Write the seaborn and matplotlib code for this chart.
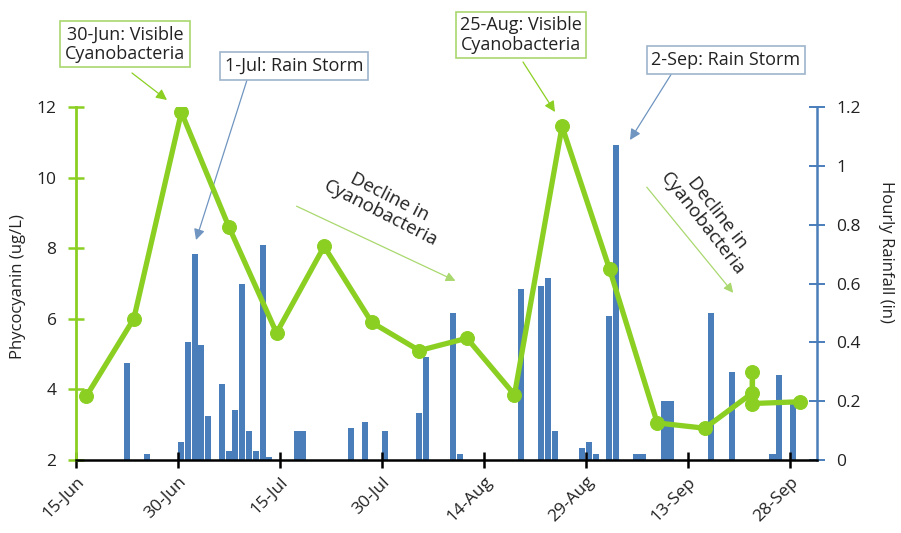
import pandas as pd
import matplotlib
matplotlib.use("Agg")
import matplotlib.pyplot as plt
import seaborn as sns

# phycocyanin samples (ug/L), roughly weekly; three readings on 22-Sep
sample_dates = ["2013-06-16 12:00", "2013-06-23 12:00", "2013-06-30 12:00", "2013-07-07 12:00",
                "2013-07-14 12:00", "2013-07-21 12:00", "2013-07-28 12:00", "2013-08-04 12:00",
                "2013-08-11 12:00", "2013-08-18 12:00", "2013-08-25 12:00", "2013-09-01 12:00",
                "2013-09-08 12:00", "2013-09-15 12:00", "2013-09-22 12:00", "2013-09-22 12:00",
                "2013-09-22 12:00", "2013-09-29 12:00"]
phycocyanin = [3.8, 6.0, 11.85, 8.6, 5.6, 8.05, 5.9, 5.1, 5.45, 3.85, 11.45, 7.4,
               3.05, 2.9, 3.9, 4.5, 3.6, 3.65]

# max hourly rainfall per day (in)
rain_dates = ["2013-06-22", "2013-06-25", "2013-06-30", "2013-07-01", "2013-07-02", "2013-07-03",
              "2013-07-04", "2013-07-06", "2013-07-07", "2013-07-08", "2013-07-09", "2013-07-10",
              "2013-07-11", "2013-07-12", "2013-07-13", "2013-07-17", "2013-07-18", "2013-07-25",
              "2013-07-27", "2013-07-30", "2013-08-04", "2013-08-05", "2013-08-09", "2013-08-10",
              "2013-08-19", "2013-08-22", "2013-08-23", "2013-08-24", "2013-08-28", "2013-08-29",
              "2013-08-30", "2013-09-01", "2013-09-02", "2013-09-05", "2013-09-06", "2013-09-09",
              "2013-09-10", "2013-09-16", "2013-09-19", "2013-09-25", "2013-09-26", "2013-09-28"]
rainfall = [0.33, 0.02, 0.06, 0.40, 0.70, 0.39, 0.15, 0.26, 0.03, 0.17, 0.60, 0.10,
            0.03, 0.73, 0.01, 0.10, 0.10, 0.11, 0.13, 0.10, 0.16, 0.35, 0.50, 0.02,
            0.58, 0.59, 0.62, 0.10, 0.04, 0.06, 0.02, 0.49, 1.07, 0.02, 0.02, 0.20,
            0.20, 0.50, 0.30, 0.02, 0.29, 0.19]

tick_dates = ["2013-06-15", "2013-06-30", "2013-07-15", "2013-07-30", "2013-08-14",
              "2013-08-29", "2013-09-13", "2013-09-28"]
tick_labels = ["15-Jun", "30-Jun", "15-Jul", "30-Jul", "14-Aug", "29-Aug", "13-Sep", "28-Sep"]

GREEN = "#8bcf22"
GREEN_LIGHT = "#a9d86e"
BLUE = "#4a7ebb"
TXT = "#222222"

sns.set_theme(style="white")
plt.rcParams["font.family"] = ["Open Sans", "DejaVu Sans"]

phy = pd.DataFrame({"date": pd.to_datetime(sample_dates), "value": phycocyanin})
rain = pd.DataFrame({"date": pd.to_datetime(rain_dates), "value": rainfall})

W, H = 901, 533
fig = plt.figure(figsize=(W / 100, H / 100), dpi=100)
ax = fig.add_axes([76 / W, 1 - 460 / H, (817 - 76) / W, (460 - 107) / H])
ax2 = ax.twinx()

ax2.bar(rain["date"], rain["value"], width=0.9, align="edge", color=BLUE, linewidth=0)
sns.lineplot(data=phy, x="date", y="value", ax=ax, estimator=None, sort=False,
             color=GREEN, linewidth=3.8, marker="o", markersize=10,
             markeredgecolor=GREEN, zorder=5)

ax.set_zorder(ax2.get_zorder() + 1)
ax.patch.set_visible(False)

ax.set_xlim(pd.Timestamp("2013-06-15"), pd.Timestamp("2013-10-02"))
ax.set_ylim(2, 12)
ax2.set_ylim(0, 1.2)
ax.set_yticks([2, 4, 6, 8, 10, 12])
ax2.set_yticks([0, 0.2, 0.4, 0.6, 0.8, 1.0, 1.2])
ax2.set_yticklabels(["0", "0.2", "0.4", "0.6", "0.8", "1", "1.2"])
ax.set_xticks(pd.to_datetime(tick_dates))
ax.set_xticklabels(tick_labels, rotation=45, ha="right", rotation_mode="anchor")

for s in ["top", "right"]:
    ax.spines[s].set_visible(False)
for s in ["top", "left", "bottom"]:
    ax2.spines[s].set_visible(False)
ax.spines["left"].set_color(GREEN)
ax.spines["left"].set_linewidth(2)
ax.spines["bottom"].set_color("black")
ax.spines["bottom"].set_linewidth(1.8)
ax2.spines["right"].set_color(BLUE)
ax2.spines["right"].set_linewidth(1.8)

ax.tick_params(axis="y", direction="inout", length=12, width=1.8, color=GREEN,
               labelsize=12.5, labelcolor=TXT, pad=8, left=True)
ax.tick_params(axis="x", direction="inout", length=12, width=1.8, color="black",
               labelsize=12.5, labelcolor=TXT, pad=4, bottom=True)
ax2.tick_params(axis="y", direction="inout", length=12, width=1.4, color=BLUE,
                labelsize=12.5, labelcolor=TXT, pad=8, right=True)

ax.set_xlabel("")
ax.set_ylabel("Phycocyanin (ug/L)", fontsize=12, color=TXT, va="center")
ax.yaxis.set_label_coords((18 - 76) / 741, 0.49)
ax2.set_ylabel("Hourly Rainfall (in)", fontsize=12, color=TXT, rotation=270, va="center")
ax2.yaxis.set_label_coords((886 - 76) / 741, 0.59)


def fp(x, y):
    return (x / W, 1 - y / H)


def note(text, xy_text, xy_tip, edge, arrow_col, tail):
    ax.annotate("", xy=fp(*xy_tip), xycoords="figure fraction",
                xytext=fp(*tail), textcoords="figure fraction",
                arrowprops=dict(arrowstyle="-|>", color=arrow_col, lw=0.9,
                                mutation_scale=16, shrinkA=0, shrinkB=0))
    fig.text(*fp(*xy_text), text, ha="center", va="center", fontsize=13, color=TXT,
             linespacing=1.1,
             bbox=dict(boxstyle="square,pad=0.25", fc="white", ec=edge, lw=1.2))


note("30-Jun: Visible\nCyanobacteria", (125, 44), (167, 100), GREEN_LIGHT, GREEN, (132, 73))
note("1-Jul: Rain Storm", (294, 66), (196, 240), "#9db4cc", "#6f95c0", (247, 80))
note("25-Aug: Visible\nCyanobacteria", (521, 35), (555, 112), GREEN_LIGHT, GREEN, (523, 62))
note("2-Sep: Rain Storm", (726, 60), (630, 140), "#9db4cc", "#6f95c0", (672, 73))

ax.annotate("", xy=fp(458, 282), xycoords="figure fraction", xytext=fp(294, 205),
            textcoords="figure fraction",
            arrowprops=dict(arrowstyle="-|>", color=GREEN_LIGHT, lw=0.9, mutation_scale=14))
fig.text(*fp(385, 205), "Decline in\nCyanobacteria", ha="center", va="center",
         rotation=-27, fontsize=13.5, color=TXT, linespacing=1.0)
ax.annotate("", xy=fp(735, 295), xycoords="figure fraction", xytext=fp(645, 185),
            textcoords="figure fraction",
            arrowprops=dict(arrowstyle="-|>", color=GREEN_LIGHT, lw=0.9, mutation_scale=14))
fig.text(*fp(710, 218), "Decline in\nCyanobacteria", ha="center", va="center",
         rotation=-52, fontsize=13.5, color=TXT, linespacing=1.0)

fig.savefig("out.png", dpi=100)
